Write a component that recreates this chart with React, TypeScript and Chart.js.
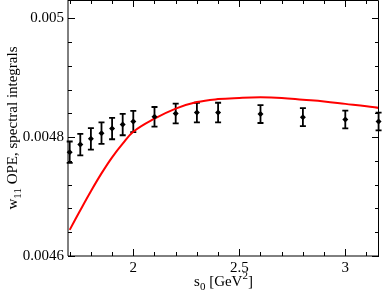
import React, { useEffect, useRef } from "react";
import { Chart, registerables } from "chart.js";

Chart.register(...registerables);

// Data: spectral integrals (points with errors) and OPE curve
const s0Points = [1.7, 1.75, 1.8, 1.85, 1.9, 1.95, 2.0, 2.1, 2.2, 2.3, 2.4, 2.6, 2.8, 3.0, 3.157];
const spectralValues = [
  0.0047747, 0.0047875, 0.0047971, 0.0048067, 0.0048145, 0.0048212, 0.0048263, 0.0048342,
  0.0048398, 0.0048414, 0.0048414, 0.0048388, 0.0048337, 0.0048297, 0.0048263,
];
const spectralErrors = [
  0.000018, 0.000018, 0.000018, 0.000018, 0.000018, 0.000018, 0.000018, 0.0000165,
  0.0000165, 0.0000165, 0.0000165, 0.000015, 0.000015, 0.000015, 0.000015,
];
const s0Curve = [1.7, 1.75, 1.8, 1.85, 1.9, 1.95, 2.0, 2.1, 2.2, 2.3, 2.4, 2.5, 2.6, 2.7, 2.8, 2.9, 3.0, 3.1, 3.16];
const opeValues = [
  0.004644, 0.004677, 0.004709, 0.004739, 0.004766, 0.004789, 0.004809, 0.004831, 0.004848,
  0.004859, 0.004864, 0.004866, 0.004867, 0.004866, 0.004863, 0.00486, 0.004856, 0.004852, 0.004849,
];
const xTickValues = [2, 2.5, 3];
const yTickValues = [0.0046, 0.0048, 0.005];

const X_MIN = 1.692;
const X_MAX = 3.159;
const Y_MIN = 0.0046;
const Y_MAX = 0.0050308;
const X_MINOR = 0.1;
const Y_MINOR = 0.00004;

const FONT = "Liberation Serif, 'Times New Roman', serif";

const decorPlugin = {
  id: "decor",
  beforeDatasetsDraw(chart: any) {
    const ctx = chart.ctx;
    const xs = chart.scales.x;
    const ys = chart.scales.y;
    ctx.save();
    ctx.strokeStyle = "#000";
    ctx.lineWidth = 1.8;
    for (let i = 0; i < s0Points.length; i++) {
      const px = xs.getPixelForValue(s0Points[i]);
      const top = ys.getPixelForValue(spectralValues[i] + spectralErrors[i]);
      const bot = ys.getPixelForValue(spectralValues[i] - spectralErrors[i]);
      ctx.beginPath();
      ctx.moveTo(px, top);
      ctx.lineTo(px, bot);
      ctx.moveTo(px - 3, top);
      ctx.lineTo(px + 3, top);
      ctx.moveTo(px - 3, bot);
      ctx.lineTo(px + 3, bot);
      ctx.stroke();
    }
    ctx.restore();
  },
  afterDraw(chart: any) {
    const ctx = chart.ctx;
    const a = chart.chartArea;
    const xs = chart.scales.x;
    const ys = chart.scales.y;
    ctx.save();
    ctx.strokeStyle = "#000";
    ctx.lineWidth = 1;
    // frame
    ctx.beginPath();
    ctx.moveTo(a.left, a.top + 0.5);
    ctx.lineTo(a.right - 0.5, a.top + 0.5);
    ctx.lineTo(a.right - 0.5, a.bottom);
    ctx.lineTo(a.left, a.bottom);
    ctx.lineTo(a.left, a.top);
    ctx.stroke();
    // x ticks
    ctx.beginPath();
    for (let k = 0; ; k++) {
      const v = Math.round((1.7 + k * X_MINOR) * 1000) / 1000;
      if (v > X_MAX) break;
      const major = xTickValues.some((t) => Math.abs(t - v) < 1e-6);
      const len = major ? 7 : 4;
      const px = Math.round(xs.getPixelForValue(v)) + 0.5;
      ctx.moveTo(px, a.bottom);
      ctx.lineTo(px, a.bottom - len);
      ctx.moveTo(px, a.top);
      ctx.lineTo(px, a.top + len);
    }
    // y ticks
    for (let k = 0; ; k++) {
      const v = Y_MIN + k * Y_MINOR;
      if (v > Y_MAX) break;
      const major = yTickValues.some((t) => Math.abs(t - v) < 1e-9);
      const len = major ? 7 : 4;
      const py = Math.round(ys.getPixelForValue(v)) + 0.5;
      ctx.moveTo(a.left, py);
      ctx.lineTo(a.left + len, py);
      ctx.moveTo(a.right, py);
      ctx.lineTo(a.right - len, py);
    }
    ctx.stroke();

    // x title: s0 [GeV2]
    ctx.fillStyle = "#000";
    ctx.textBaseline = "alphabetic";
    ctx.textAlign = "left";
    const big = `15px ${FONT}`;
    const small = `11px ${FONT}`;
    const parts: [string, string, number][] = [
      ["s", big, 0],
      ["0", small, 4],
      [" [GeV", big, 0],
      ["2", small, -7],
      ["]", big, 0],
    ];
    let total = 0;
    for (const [t, f] of parts) {
      ctx.font = f;
      total += ctx.measureText(t).width;
    }
    const cx = (a.left + a.right) / 2;
    let x = cx - total / 2;
    const baseY = 286;
    for (const [t, f, dy] of parts) {
      ctx.font = f;
      ctx.fillText(t, x, baseY + dy);
      x += ctx.measureText(t).width;
    }

    // y title: w11 OPE, spectral integrals (rotated)
    const yparts: [string, string, number][] = [
      ["w", big, 0],
      ["11", small, 4],
      [" OPE, spectral integrals", big, 0],
    ];
    let ytotal = 0;
    for (const [t, f] of yparts) {
      ctx.font = f;
      ytotal += ctx.measureText(t).width;
    }
    ctx.translate(17, (a.top + a.bottom) / 2);
    ctx.rotate(-Math.PI / 2);
    let yx = -ytotal / 2;
    for (const [t, f, dy] of yparts) {
      ctx.font = f;
      ctx.fillText(t, yx, dy);
      yx += ctx.measureText(t).width;
    }
    ctx.restore();
  },
};

export default function App() {
  const ref = useRef<HTMLCanvasElement | null>(null);
  useEffect(() => {
    if (!ref.current) return;
    const chart = new Chart(ref.current, {
      type: "scatter",
      data: {
        datasets: [
          {
            type: "line",
            data: s0Curve.map((s, i) => ({ x: s, y: opeValues[i] })),
            borderColor: "#ff0000",
            borderWidth: 2,
            pointRadius: 0,
            tension: 0.4,
            fill: false,
            order: 1,
          } as any,
          {
            type: "scatter",
            data: s0Points.map((s, i) => ({ x: s, y: spectralValues[i] })),
            backgroundColor: "#000",
            borderColor: "#000",
            pointStyle: "rectRot",
            pointRadius: 3,
            borderWidth: 0,
            clip: false,
            order: 0,
          } as any,
        ],
      },
      options: {
        animation: false,
        responsive: false,
        maintainAspectRatio: false,
        layout: { padding: { top: 0, right: 3, left: 0, bottom: 0 }, autoPadding: false } as any,
        plugins: { legend: { display: false }, tooltip: { enabled: false } },
        scales: {
          x: {
            type: "linear",
            min: X_MIN,
            max: X_MAX,
            grid: { display: false, drawTicks: false },
            border: { display: false },
            ticks: {
              color: "#000",
              font: { family: FONT, size: 15 },
              padding: 3,
              maxRotation: 0,
              callback: (v: any) => String(v),
            },
            afterBuildTicks: (s: any) => {
              s.ticks = xTickValues.map((v) => ({ value: v }));
            },
            afterFit: (s: any) => {
              s.height = 42;
              s.paddingLeft = 0;
              s.paddingRight = 0;
              s.paddingTop = 0;
              s.paddingBottom = 0;
            },
          },
          y: {
            type: "linear",
            min: Y_MIN,
            max: Y_MAX,
            grid: { display: false, drawTicks: false },
            border: { display: false },
            ticks: {
              color: "#000",
              font: { family: FONT, size: 15 },
              padding: 4,
              callback: (v: any) => (Math.abs(v - 0.005) < 1e-9 ? "0.005" : Number(v).toFixed(4)),
            },
            afterBuildTicks: (s: any) => {
              s.ticks = yTickValues.map((v) => ({ value: v }));
            },
            afterFit: (s: any) => {
              s.width = 68;
              s.paddingLeft = 0;
              s.paddingRight = 0;
              s.paddingTop = 0;
              s.paddingBottom = 0;
            },
          },
        },
      },
      plugins: [decorPlugin],
    });
    return () => chart.destroy();
  }, []);
  return (
    <div style={{ position: "fixed", left: 0, top: 0, width: 382, height: 298, background: "#fff" }}>
      <canvas ref={ref} width={382} height={298} style={{ width: 382, height: 298 }} />
    </div>
  );
}
